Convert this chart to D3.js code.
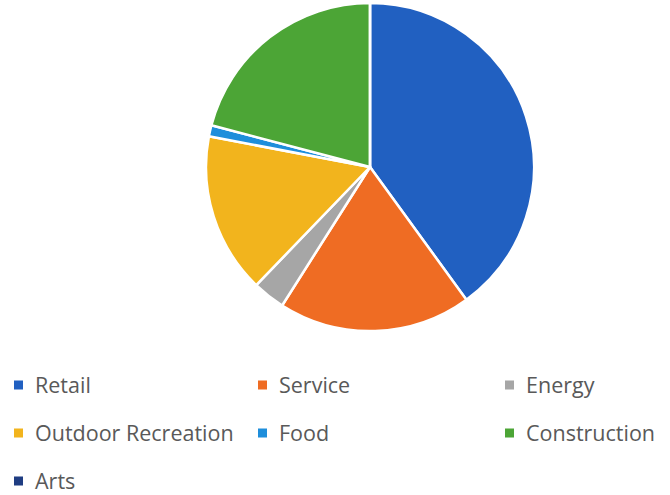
<!DOCTYPE html>
<html><head><meta charset="utf-8">
<script src="https://cdn.jsdelivr.net/npm/d3@7"></script>
<style>html,body{margin:0;padding:0;background:#fff;}svg{display:block;}</style>
</head><body>
<svg id="chart" width="670" height="495"></svg>
<script>
const categories = ["Retail","Service","Energy","Outdoor Recreation","Food","Construction","Arts"];
const values = [40, 19, 3.2, 15.8, 1.1, 20.9, 0];
const colors = ["#2160C1","#EF6C23","#A6A6A6","#F2B41D","#1E8EDB","#4CA536","#1F3D82"];

const svg = d3.select("#chart");
const cx = 370, cy = 167, r = 164;
const pie = d3.pie().sort(null).value(d => d.v);
const arc = d3.arc().innerRadius(0).outerRadius(r);
const data = categories.map((c,i)=>({c, v: values[i], col: colors[i]}));
const g = svg.append("g").attr("transform",`translate(${cx},${cy})`);
g.selectAll("path").data(pie(data)).join("path")
  .attr("d", arc).attr("fill", d=>d.data.col)
  .attr("stroke","#fff").attr("stroke-width",2.5).attr("stroke-linejoin","round");

const colX = [14, 258, 505];
const rowY = [385, 433, 481];
const lg = svg.append("g");
data.forEach((d,i)=>{
  const x = colX[i%3], y = rowY[Math.floor(i/3)];
  lg.append("rect").attr("x",x).attr("y",y-4.5).attr("width",9).attr("height",9).attr("fill",d.col);
  lg.append("text").attr("x",x+21).attr("y",y).attr("dy","0.36em")
    .attr("font-family","Open Sans, sans-serif").attr("font-size",21.5)
    .attr("fill","#595959").text(d.c);
});
</script>
</body></html>
